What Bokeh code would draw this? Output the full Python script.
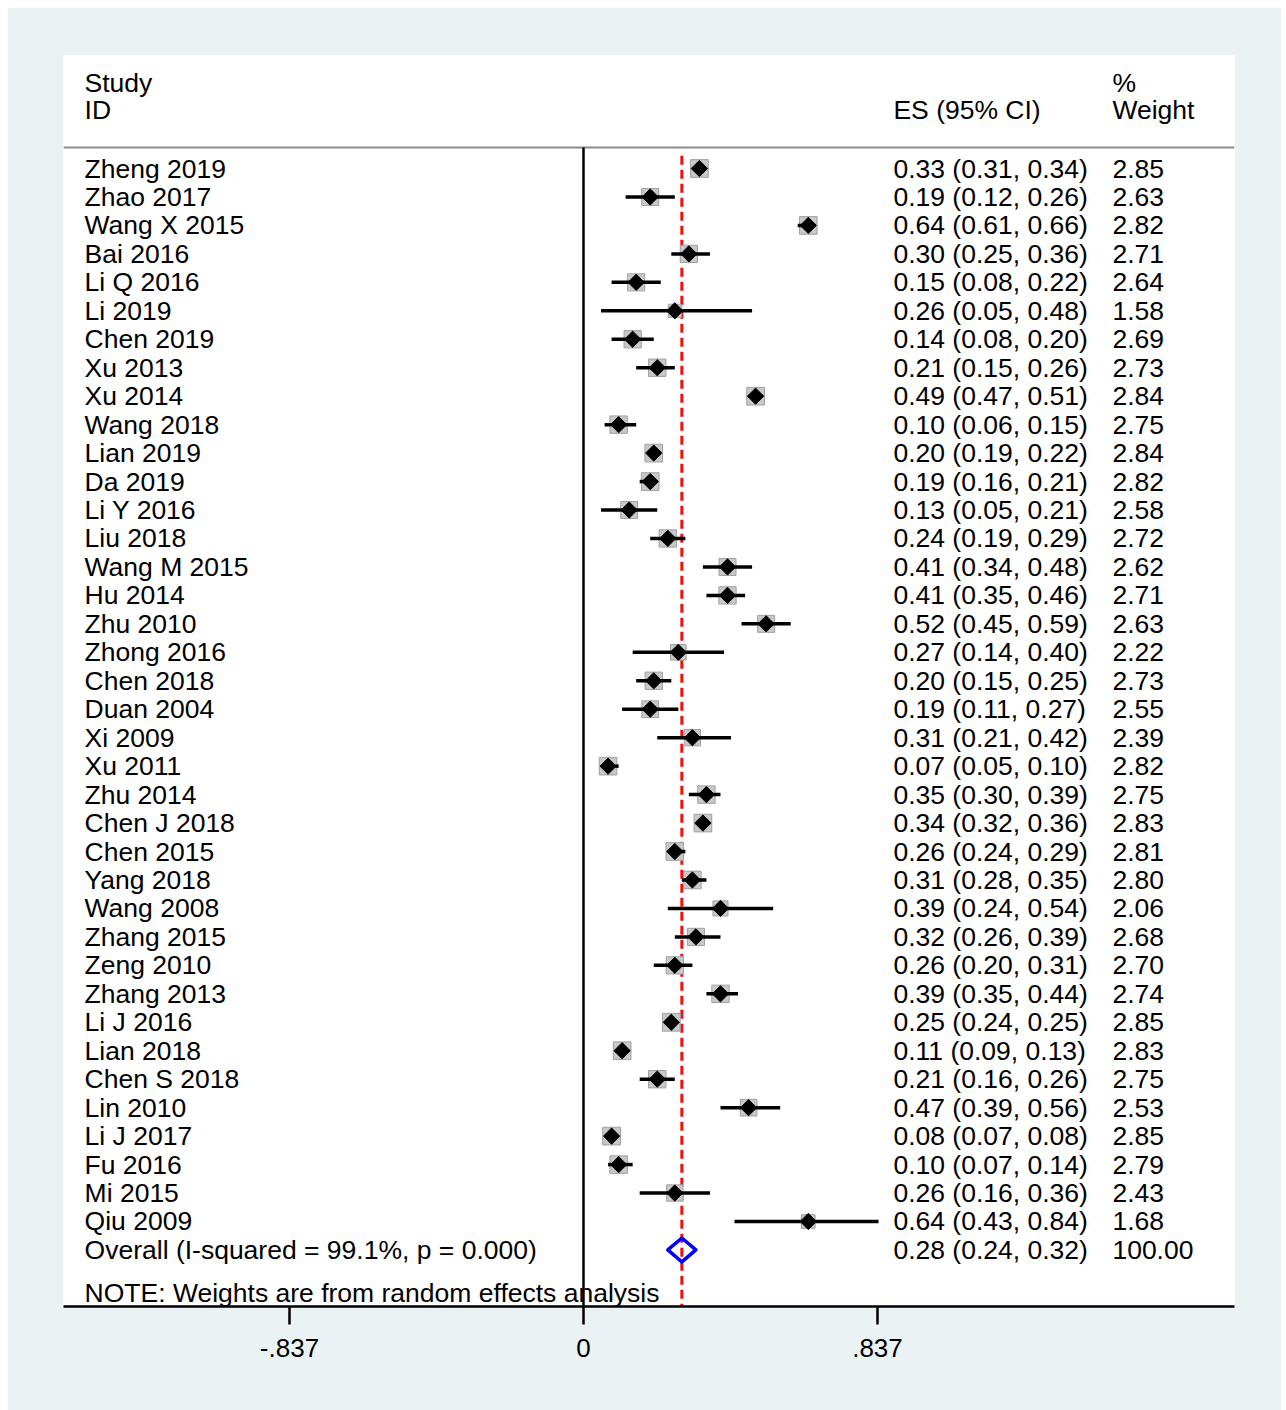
import numpy as np
from bokeh.plotting import figure
from bokeh.models import Range1d, FixedTicker, ColumnDataSource
from bokeh.core.properties import value
from bokeh.embed import file_html
from bokeh.resources import INLINE

studies = ["Zheng 2019", "Zhao 2017", "Wang X 2015", "Bai 2016", "Li Q 2016", "Li 2019",
           "Chen 2019", "Xu 2013", "Xu 2014", "Wang 2018", "Lian 2019", "Da 2019",
           "Li Y 2016", "Liu 2018", "Wang M 2015", "Hu 2014", "Zhu 2010", "Zhong 2016",
           "Chen 2018", "Duan 2004", "Xi 2009", "Xu 2011", "Zhu 2014", "Chen J 2018",
           "Chen 2015", "Yang 2018", "Wang 2008", "Zhang 2015", "Zeng 2010", "Zhang 2013",
           "Li J 2016", "Lian 2018", "Chen S 2018", "Lin 2010", "Li J 2017", "Fu 2016",
           "Mi 2015", "Qiu 2009"]
es = [0.33, 0.19, 0.64, 0.30, 0.15, 0.26, 0.14, 0.21, 0.49, 0.10, 0.20, 0.19, 0.13, 0.24,
      0.41, 0.41, 0.52, 0.27, 0.20, 0.19, 0.31, 0.07, 0.35, 0.34, 0.26, 0.31, 0.39, 0.32,
      0.26, 0.39, 0.25, 0.11, 0.21, 0.47, 0.08, 0.10, 0.26, 0.64]
lo = [0.31, 0.12, 0.61, 0.25, 0.08, 0.05, 0.08, 0.15, 0.47, 0.06, 0.19, 0.16, 0.05, 0.19,
      0.34, 0.35, 0.45, 0.14, 0.15, 0.11, 0.21, 0.05, 0.30, 0.32, 0.24, 0.28, 0.24, 0.26,
      0.20, 0.35, 0.24, 0.09, 0.16, 0.39, 0.07, 0.07, 0.16, 0.43]
hi = [0.34, 0.26, 0.66, 0.36, 0.22, 0.48, 0.20, 0.26, 0.51, 0.15, 0.22, 0.21, 0.21, 0.29,
      0.48, 0.46, 0.59, 0.40, 0.25, 0.27, 0.42, 0.10, 0.39, 0.36, 0.29, 0.35, 0.54, 0.39,
      0.31, 0.44, 0.25, 0.13, 0.26, 0.56, 0.08, 0.14, 0.36, 0.84]
weights = [2.85, 2.63, 2.82, 2.71, 2.64, 1.58, 2.69, 2.73, 2.84, 2.75, 2.84, 2.82, 2.58, 2.72,
           2.62, 2.71, 2.63, 2.22, 2.73, 2.55, 2.39, 2.82, 2.75, 2.83, 2.81, 2.80, 2.06, 2.68,
           2.70, 2.74, 2.85, 2.83, 2.75, 2.53, 2.85, 2.79, 2.43, 1.68]
overall_es = 0.28
overall_lo = 0.24
overall_hi = 0.32
overall_label = "Overall  (I-squared = 99.1%, p = 0.000)"
overall_weight = "100.00"
note = "NOTE: Weights are from random effects analysis"
tick_values = [-0.837, 0.0, 0.837]
tick_labels = ["-.837", "0", ".837"]

FONT = "Liberation Sans"
FS = "26.5px"
BG = "#EAF2F3"

n = len(studies)
rows = list(range(n))
overall_row = n
src = ColumnDataSource(dict(
    y=rows, es=es, lo=lo, hi=hi, w=weights,
    box=[10.5 * np.sqrt(w) for w in weights],
    name=studies,
    est=[f"{e:.2f} ({a:.2f}, {b:.2f})" for e, a, b in zip(es, lo, hi)],
    wt=[f"{w:.2f}" for w in weights],
))

x_left, x_right = -1.4804, 1.8534
y_top, y_bottom = -3.971, 39.987
col_name = -1.4204
col_es = 0.8824
col_w = 1.5058

p = figure(width=1274, height=1403, output_backend="svg", toolbar_location=None,
           x_range=Range1d(x_left, x_right), y_range=Range1d(y_bottom, y_top),
           min_border_left=56, min_border_right=47, min_border_top=48, min_border_bottom=104,
           background_fill_color="white", border_fill_color=BG, outline_line_color=None)
p.margin = (7, 0, 0, 7)
p.grid.visible = False
p.yaxis.visible = False

ax = p.xaxis[0]
ax.ticker = FixedTicker(ticks=tick_values, minor_ticks=[])
ax.major_label_overrides = {v: l for v, l in zip(tick_values, tick_labels)}
ax.axis_line_width = 2.5
ax.axis_line_color = "black"
ax.major_tick_line_width = 2.5
ax.major_tick_line_color = "black"
ax.major_tick_out = 18
ax.major_tick_in = 0
ax.minor_tick_line_color = None
ax.major_label_standoff = 14
ax.major_label_text_font = FONT
ax.major_label_text_font_size = "26px"
ax.major_label_text_color = "black"

# header separator
sep_y = -0.738
p.segment(x0=[x_left], x1=[x_right], y0=[sep_y], y1=[sep_y], line_color="#8a8a8a", line_width=2)
# null line at 0
p.segment(x0=[0], x1=[0], y0=[sep_y], y1=[y_bottom], line_color="black", line_width=2.5)
# overall dashed line
p.segment(x0=[overall_es], x1=[overall_es], y0=[-0.45], y1=[y_bottom],
          line_color="#f01010", line_width=3, line_dash="9 5")

# weight boxes
p.scatter(x="es", y="y", size="box", marker="square", source=src,
          fill_color="#c8c8c8", line_color="#a0a0a0", line_width=1)
# CI lines
p.segment(x0="lo", x1="hi", y0="y", y1="y", source=src, line_color="black", line_width=3.5)
# point estimates
p.scatter(x="es", y="y", size=11.5, marker="square", angle=np.pi / 4, source=src,
          fill_color="black", line_color="black")

# overall diamond
dh = 0.42
p.patch(x=[overall_lo, overall_es, overall_hi, overall_es],
        y=[overall_row, overall_row - dh, overall_row, overall_row + dh],
        fill_color=None, line_color="#0000ff", line_width=3.5, line_join="round")

# texts
common = dict(text_font=value(FONT), text_font_size=FS, text_color="black",
              text_baseline="middle", text_align="left")
p.text(x=col_name, y="y", text="name", source=src, **common)
p.text(x=col_es, y="y", text="est", source=src, **common)
p.text(x=col_w, y="y", text="wt", source=src, **common)
p.text(x=[col_name], y=[overall_row], text=[overall_label], **common)
p.text(x=[col_es], y=[overall_row],
       text=[f"{overall_es:.2f} ({overall_lo:.2f}, {overall_hi:.2f})"], **common)
p.text(x=[col_w], y=[overall_row], text=[overall_weight], **common)
p.text(x=[col_name], y=[39.5], text=[note], **common)
# headers
p.text(x=[col_name, col_name, col_es, col_w, col_w], y=[-3.0, -2.04, -2.04, -3.0, -2.04],
       text=["Study", "ID", "ES (95% CI)", "%", "Weight"], **common)

open("out.html", "w").write(file_html(p, INLINE))
